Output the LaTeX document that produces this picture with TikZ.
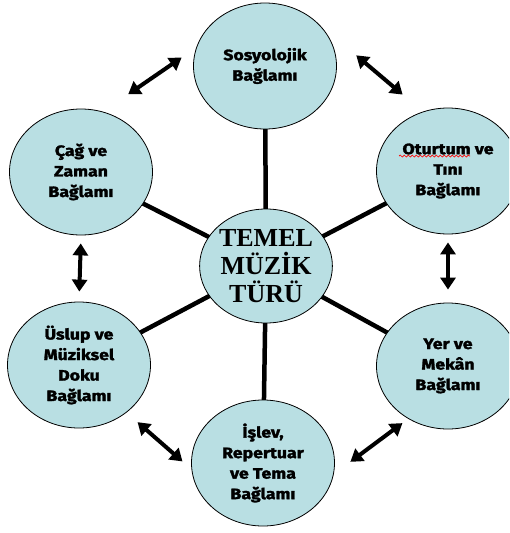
\documentclass[tikz,border=0pt]{standalone}
\usepackage{fontspec}
\newfontfamily\lblfont[FakeStretch=1.18, BoldFeatures={FakeBold=2}]{Fira Sans}
\newfontfamily\hubfont{Liberation Serif}
\usetikzlibrary{arrows.meta, shapes.geometric, backgrounds, calc, decorations.pathmorphing}
\definecolor{ctxblue}{RGB}{185,223,227}

\begin{document}
\begin{tikzpicture}[x=1pt, y=1pt,
    ctx/.style={ellipse, draw, fill=ctxblue, line width=0.8pt, minimum width=143pt, minimum height=126pt,
      inner sep=0pt, align=center, font=\lblfont\bfseries\fontsize{15}{20.5}\selectfont},
    hub/.style={ctx, minimum width=124pt, minimum height=114pt, font=\hubfont\bfseries\fontsize{26}{28}\selectfont},
    spoke/.style={line width=4.5pt},
    link/.style={line width=4pt, {Triangle[length=12pt,width=15pt]}-{Triangle[length=12pt,width=15pt]}},
    squig/.style={red, line width=0.7pt, decorate, decoration={snake, amplitude=1pt, segment length=4pt}},
  ]
  \useasboundingbox (0,0) rectangle (509,-533);
  \clip (0,0) rectangle (509,-533);

  % centre and the six contexts
  \node[hub] (tem) at (266,-266) {TEMEL\\MÜZİK\\TÜRÜ};
  \node[ctx] (sos) at (265,-66)  {Sosyolojik\\Bağlamı};
  \node[ctx] (cag) at (81,-172)  {Çağ ve\\Zaman\\Bağlamı};
  \node[ctx] (oto) at (448,-171) {Oturtum ve\\Tını\\Bağlamı};
  \node[ctx] (usl) at (79,-365)  {Üslup ve\\Müziksel\\Doku\\Bağlamı};
  \node[ctx] (yer) at (448,-366) {Yer ve\\Mekân\\Bağlamı};
  \node[ctx] (ist) at (263,-463) {İşlev,\\Repertuar\\ve Tema\\Bağlamı};

  \draw[squig] ($(oto)+(-49,15)$) -- ($(oto)+(22,15)$);

  \begin{scope}[on background layer]
    \foreach \n in {sos, cag, oto, usl, yer, ist}
      \draw[spoke] (tem.center) -- (\n.center);
  \end{scope}

  % arrows between neighbours
  \draw[link, shorten <=17.7pt, shorten >=30.6pt] (sos.165) -- (cag.70);
  \draw[link, shorten <=54.8pt, shorten >=26.4pt] (sos.43) -- (oto.113);
  \draw[link, shorten <=8pt, shorten >=10pt] (cag.south) -- (usl.north);
  \draw[link, shorten <=8pt, shorten >=13pt] (oto.south) -- (yer.north);
  \draw[link, shorten <=14.6pt, shorten >=11.9pt] (usl.-45) -- (ist.185);
  \draw[link, shorten <=20.7pt, shorten >=7.2pt] (ist.-9) -- (yer.233);
\end{tikzpicture}
\end{document}
